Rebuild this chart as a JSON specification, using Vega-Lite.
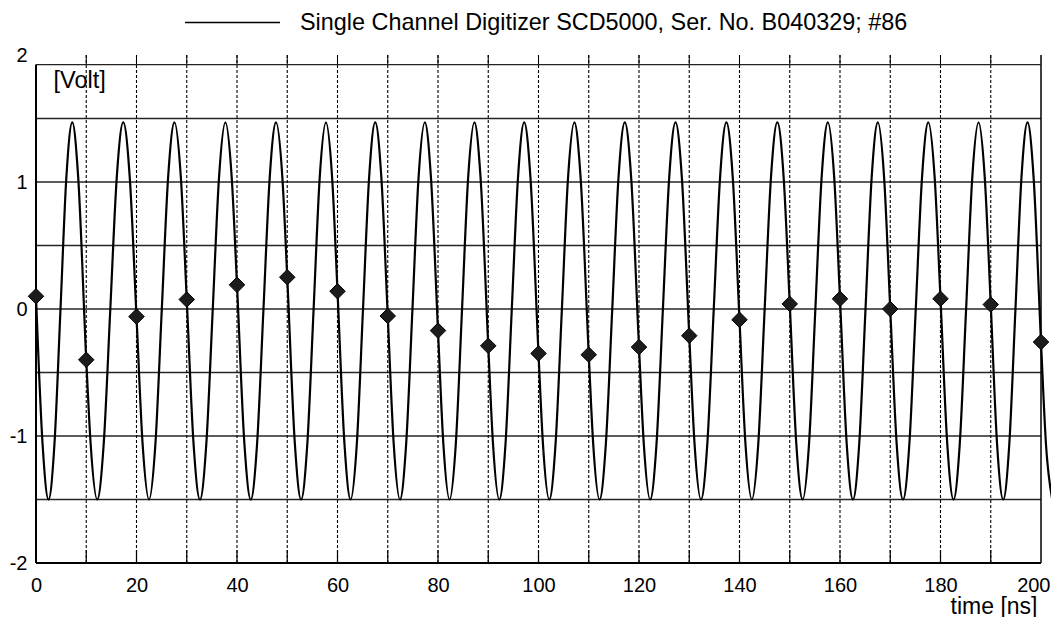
{
  "$schema": "https://vega.github.io/schema/vega-lite/v6.json",
  "width": 1005,
  "height": 508,
  "autosize": {"type": "none"},
  "padding": {"left": 36, "top": 55, "right": 10, "bottom": 54},
  "background": "white",
  "config": {
    "view": {"stroke": null},
    "font": "Liberation Sans"
  },
  "datasets": {
    "trace": [
      {"t": 0, "v": 0.10}, {"t": 1.31, "v": -1.065}, {"t": 2.49, "v": -1.5}, {"t": 3.67, "v": -1.065}, {"t": 4.86, "v": -0.015}, {"t": 6.04, "v": 1.035}, {"t": 7.22, "v": 1.47}, {"t": 8.40, "v": 1.035},
      {"t": 10, "v": -0.40}, {"t": 10.88, "v": -1.065}, {"t": 12.18, "v": -1.5}, {"t": 13.47, "v": -1.065}, {"t": 14.77, "v": -0.015}, {"t": 16.07, "v": 1.035}, {"t": 17.36, "v": 1.47}, {"t": 18.66, "v": 1.035},
      {"t": 20, "v": -0.06}, {"t": 21.22, "v": -1.065}, {"t": 22.49, "v": -1.5}, {"t": 23.76, "v": -1.065}, {"t": 25.02, "v": -0.015}, {"t": 26.29, "v": 1.035}, {"t": 27.56, "v": 1.47}, {"t": 28.83, "v": 1.035},
      {"t": 30, "v": 0.075}, {"t": 31.36, "v": -1.065}, {"t": 32.63, "v": -1.5}, {"t": 33.89, "v": -1.065}, {"t": 35.16, "v": -0.015}, {"t": 36.42, "v": 1.035}, {"t": 37.69, "v": 1.47}, {"t": 38.95, "v": 1.035},
      {"t": 40, "v": 0.19}, {"t": 41.48, "v": -1.065}, {"t": 42.74, "v": -1.5}, {"t": 43.99, "v": -1.065}, {"t": 45.25, "v": -0.015}, {"t": 46.51, "v": 1.035}, {"t": 47.77, "v": 1.47}, {"t": 49.03, "v": 1.035},
      {"t": 50, "v": 0.25}, {"t": 51.52, "v": -1.065}, {"t": 52.75, "v": -1.5}, {"t": 53.99, "v": -1.065}, {"t": 55.23, "v": -0.015}, {"t": 56.46, "v": 1.035}, {"t": 57.70, "v": 1.47}, {"t": 58.93, "v": 1.035},
      {"t": 60, "v": 0.14}, {"t": 61.39, "v": -1.065}, {"t": 62.61, "v": -1.5}, {"t": 63.84, "v": -1.065}, {"t": 65.06, "v": -0.015}, {"t": 66.29, "v": 1.035}, {"t": 67.51, "v": 1.47}, {"t": 68.73, "v": 1.035},
      {"t": 70, "v": -0.055}, {"t": 71.19, "v": -1.065}, {"t": 72.43, "v": -1.5}, {"t": 73.66, "v": -1.065}, {"t": 74.90, "v": -0.015}, {"t": 76.13, "v": 1.035}, {"t": 77.37, "v": 1.47}, {"t": 78.60, "v": 1.035},
      {"t": 80, "v": -0.17}, {"t": 81.07, "v": -1.065}, {"t": 82.30, "v": -1.5}, {"t": 83.54, "v": -1.065}, {"t": 84.77, "v": -0.015}, {"t": 86.00, "v": 1.035}, {"t": 87.24, "v": 1.47}, {"t": 88.47, "v": 1.035},
      {"t": 90, "v": -0.29}, {"t": 90.95, "v": -1.065}, {"t": 92.19, "v": -1.5}, {"t": 93.43, "v": -1.065}, {"t": 94.67, "v": -0.015}, {"t": 95.92, "v": 1.035}, {"t": 97.16, "v": 1.47}, {"t": 98.40, "v": 1.035},
      {"t": 100, "v": -0.35}, {"t": 100.89, "v": -1.065}, {"t": 102.14, "v": -1.5}, {"t": 103.39, "v": -1.065}, {"t": 104.64, "v": -0.015}, {"t": 105.88, "v": 1.035}, {"t": 107.13, "v": 1.47}, {"t": 108.38, "v": 1.035},
      {"t": 110, "v": -0.36}, {"t": 110.89, "v": -1.065}, {"t": 112.15, "v": -1.5}, {"t": 113.40, "v": -1.065}, {"t": 114.66, "v": -0.015}, {"t": 115.92, "v": 1.035}, {"t": 117.18, "v": 1.47}, {"t": 118.44, "v": 1.035},
      {"t": 120, "v": -0.30}, {"t": 120.96, "v": -1.065}, {"t": 122.22, "v": -1.5}, {"t": 123.48, "v": -1.065}, {"t": 124.74, "v": -0.015}, {"t": 126.01, "v": 1.035}, {"t": 127.27, "v": 1.47}, {"t": 128.53, "v": 1.035},
      {"t": 130, "v": -0.21}, {"t": 131.06, "v": -1.065}, {"t": 132.33, "v": -1.5}, {"t": 133.59, "v": -1.065}, {"t": 134.86, "v": -0.015}, {"t": 136.13, "v": 1.035}, {"t": 137.39, "v": 1.47}, {"t": 138.66, "v": 1.035},
      {"t": 140, "v": -0.085}, {"t": 141.19, "v": -1.065}, {"t": 142.46, "v": -1.5}, {"t": 143.73, "v": -1.065}, {"t": 144.99, "v": -0.015}, {"t": 146.26, "v": 1.035}, {"t": 147.53, "v": 1.47}, {"t": 148.79, "v": 1.035},
      {"t": 150, "v": 0.04}, {"t": 151.31, "v": -1.065}, {"t": 152.57, "v": -1.5}, {"t": 153.83, "v": -1.065}, {"t": 155.08, "v": -0.015}, {"t": 156.34, "v": 1.035}, {"t": 157.59, "v": 1.47}, {"t": 158.85, "v": 1.035},
      {"t": 160, "v": 0.08}, {"t": 161.34, "v": -1.065}, {"t": 162.58, "v": -1.5}, {"t": 163.82, "v": -1.065}, {"t": 165.06, "v": -0.015}, {"t": 166.30, "v": 1.035}, {"t": 167.54, "v": 1.47}, {"t": 168.78, "v": 1.035},
      {"t": 170, "v": 0.0}, {"t": 171.28, "v": -1.065}, {"t": 172.54, "v": -1.5}, {"t": 173.80, "v": -1.065}, {"t": 175.06, "v": -0.015}, {"t": 176.32, "v": 1.035}, {"t": 177.58, "v": 1.47}, {"t": 178.84, "v": 1.035},
      {"t": 180, "v": 0.08}, {"t": 181.35, "v": -1.065}, {"t": 182.59, "v": -1.5}, {"t": 183.83, "v": -1.065}, {"t": 185.08, "v": -0.015}, {"t": 186.32, "v": 1.035}, {"t": 187.57, "v": 1.47}, {"t": 188.81, "v": 1.035},
      {"t": 190, "v": 0.035}, {"t": 191.26, "v": -1.065}, {"t": 192.48, "v": -1.5}, {"t": 193.69, "v": -1.065}, {"t": 194.90, "v": -0.015}, {"t": 196.11, "v": 1.035}, {"t": 197.32, "v": 1.47}, {"t": 198.53, "v": 1.035},
      {"t": 200, "v": -0.26}, {"t": 200.99, "v": -1.065}, {"t": 202.24, "v": -1.5}
    ],
    "samples": [
      {"t": 0, "v": 0.10}, {"t": 10, "v": -0.40}, {"t": 20, "v": -0.06}, {"t": 30, "v": 0.075},
      {"t": 40, "v": 0.19}, {"t": 50, "v": 0.25}, {"t": 60, "v": 0.14}, {"t": 70, "v": -0.055},
      {"t": 80, "v": -0.17}, {"t": 90, "v": -0.29}, {"t": 100, "v": -0.35}, {"t": 110, "v": -0.36},
      {"t": 120, "v": -0.30}, {"t": 130, "v": -0.21}, {"t": 140, "v": -0.085}, {"t": 150, "v": 0.04},
      {"t": 160, "v": 0.08}, {"t": 170, "v": 0.0}, {"t": 180, "v": 0.08}, {"t": 190, "v": 0.035},
      {"t": 200, "v": -0.26}
    ],
    "levels": [
      {"v": -1.5}, {"v": -1}, {"v": -0.5}, {"v": 0}, {"v": 0.5}, {"v": 1}, {"v": 1.5}
    ],
    "times": [
      {"t": 10}, {"t": 20}, {"t": 30}, {"t": 40}, {"t": 50}, {"t": 60}, {"t": 70}, {"t": 80}, {"t": 90},
      {"t": 100}, {"t": 110}, {"t": 120}, {"t": 130}, {"t": 140}, {"t": 150}, {"t": 160}, {"t": 170},
      {"t": 180}, {"t": 190}
    ],
    "one": [{}]
  },
  "layer": [
    {
      "description": "horizontal grid every 0.5 V",
      "data": {"name": "levels"},
      "mark": {"type": "rule", "color": "#262626", "strokeWidth": 1.3},
      "encoding": {
        "y": {"field": "v", "type": "quantitative", "scale": {"domain": [-2, 2], "nice": false}},
        "x": {"datum": 0, "type": "quantitative"},
        "x2": {"datum": 200}
      }
    },
    {
      "description": "dashed vertical grid every 10 ns",
      "data": {"name": "times"},
      "mark": {"type": "rule", "color": "#000", "strokeWidth": 1.1, "strokeDash": [3, 2]},
      "encoding": {
        "x": {"field": "t", "type": "quantitative", "scale": {"domain": [0, 200], "nice": false}},
        "y": {"datum": -2, "type": "quantitative"},
        "y2": {"datum": 2}
      }
    },
    {
      "description": "short inner ticks along the bottom edge",
      "data": {"name": "times"},
      "mark": {"type": "rule", "color": "#000", "strokeWidth": 1.2},
      "encoding": {
        "x": {"field": "t", "type": "quantitative"},
        "y": {"datum": -2, "type": "quantitative"},
        "y2": {"datum": -1.9}
      }
    },
    {
      "description": "short ticks above the top edge",
      "data": {"name": "times"},
      "mark": {"type": "rule", "color": "#000", "strokeWidth": 1},
      "encoding": {
        "x": {"field": "t", "type": "quantitative"},
        "y": {"datum": 1.925, "type": "quantitative"},
        "y2": {"datum": 2}
      }
    },
    {
      "description": "left frame edge",
      "data": {"name": "one"},
      "mark": {"type": "rule", "color": "#000", "strokeWidth": 2},
      "encoding": {
        "x": {"datum": 0, "type": "quantitative"},
        "y": {"datum": -2, "type": "quantitative"},
        "y2": {"datum": 1.925}
      }
    },
    {
      "description": "right frame edge",
      "data": {"name": "one"},
      "mark": {"type": "rule", "color": "#000", "strokeWidth": 1.5},
      "encoding": {
        "x": {"datum": 200, "type": "quantitative"},
        "y": {"datum": -2, "type": "quantitative"},
        "y2": {"datum": 2}
      }
    },
    {
      "description": "bottom frame edge",
      "data": {"name": "one"},
      "mark": {"type": "rule", "color": "#000", "strokeWidth": 2},
      "encoding": {
        "y": {"datum": -2, "type": "quantitative"},
        "x": {"datum": 0, "type": "quantitative"},
        "x2": {"datum": 200}
      }
    },
    {
      "description": "top frame edge",
      "data": {"name": "one"},
      "mark": {"type": "rule", "color": "#222", "strokeWidth": 1.2},
      "encoding": {
        "y": {"datum": 1.925, "type": "quantitative"},
        "x": {"datum": 0, "type": "quantitative"},
        "x2": {"datum": 200}
      }
    },
    {
      "description": "digitizer trace",
      "data": {"name": "trace"},
      "mark": {"type": "line", "interpolate": "monotone", "strokeWidth": 2.2, "clip": false},
      "encoding": {
        "x": {
          "field": "t", "type": "quantitative", "title": "time [ns]",
          "axis": {
            "values": [0, 20, 40, 60, 80, 100, 120, 140, 160, 180, 200],
            "domain": false, "ticks": false, "grid": false,
            "labelFont": "Liberation Sans", "labelFontSize": 20, "labelColor": "#000",
            "labelPadding": 12, "labelFlush": false, "labelOverlap": false,
            "labelAlign": {"condition": {"test": "datum.value >= 200", "value": "right"}, "value": "center"},
            "labelOffset": {"condition": {"test": "datum.value >= 200", "value": 9}, "value": 0},
            "labelExpr": "'' + datum.value",
            "title": "time [ns]", "titleFont": "Liberation Sans", "titleFontSize": 23,
            "titleFontWeight": "normal", "titleColor": "#000",
            "titleAlign": "right", "titleBaseline": "alphabetic", "titleX": 1001, "titleY": 50
          }
        },
        "y": {
          "field": "v", "type": "quantitative", "title": "[Volt]",
          "axis": {
            "values": [-2, -1, 0, 1, 2],
            "domain": false, "ticks": false, "grid": false,
            "labelFont": "Liberation Sans", "labelFontSize": 20, "labelColor": "#000",
            "labelPadding": 9, "labelOverlap": false,
            "labelExpr": "'' + datum.value",
            "title": "[Volt]", "titleFont": "Liberation Sans", "titleFontSize": 23.5,
            "titleFontWeight": "normal", "titleColor": "#000", "titleAngle": 0,
            "titleAlign": "left", "titleBaseline": "alphabetic", "titleX": 17, "titleY": 32
          }
        },
        "color": {
          "datum": "Single Channel Digitizer SCD5000, Ser. No. B040329; #86",
          "type": "nominal",
          "scale": {"range": ["#000"]},
          "legend": {
            "orient": "none", "legendX": 148, "legendY": -81, "title": null, "padding": 0,
            "symbolType": "stroke", "symbolSize": 9025, "symbolStrokeWidth": 1.5,
            "symbolStrokeColor": "#000",
            "labelFont": "Liberation Sans", "labelFontSize": 23.4, "labelColor": "#000",
            "labelLimit": 1000, "labelOffset": 19
          }
        }
      }
    },
    {
      "description": "samples taken every 10 ns",
      "data": {"name": "samples"},
      "mark": {"type": "point", "shape": "diamond", "filled": true, "size": 240, "fill": "#1c1c1c", "stroke": "#000", "strokeWidth": 1, "opacity": 1},
      "encoding": {
        "x": {"field": "t", "type": "quantitative"},
        "y": {"field": "v", "type": "quantitative"}
      }
    }
  ]
}
